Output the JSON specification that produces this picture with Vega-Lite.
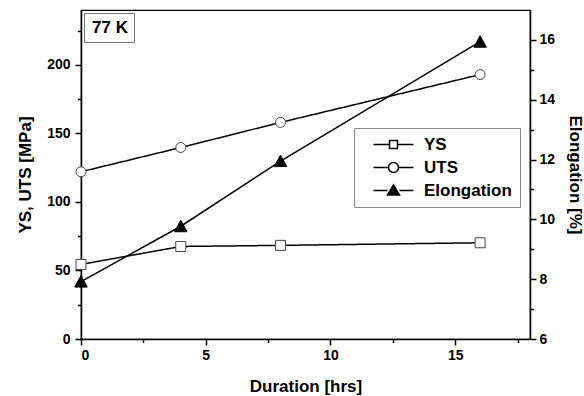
{
  "$schema": "https://vega.github.io/schema/vega-lite/v6.json",
  "width": 449,
  "height": 329,
  "autosize": {"type": "none"},
  "padding": {"left": 81, "top": 10, "right": 54, "bottom": 57},
  "background": "white",
  "config": {
    "view": {"stroke": "black", "strokeWidth": 1.2},
    "axis": {
      "grid": false,
      "domainColor": "black",
      "domainWidth": 1.5,
      "tickColor": "black",
      "tickWidth": 1.5,
      "labelFont": "Liberation Sans",
      "labelFontWeight": "bold",
      "labelFontSize": 14,
      "labelColor": "black",
      "titleFont": "Liberation Sans",
      "titleFontWeight": "bold",
      "titleFontSize": 17,
      "titleColor": "black"
    },
    "legend": {
      "labelFont": "Liberation Sans",
      "labelFontWeight": "bold",
      "labelColor": "black"
    }
  },
  "data": {
    "values": [
      {"duration": 0, "series": "YS", "group": "left", "value": 54.4, "temp": "77 K"},
      {"duration": 4, "series": "YS", "group": "left", "value": 67.5, "temp": "77 K"},
      {"duration": 8, "series": "YS", "group": "left", "value": 68.3, "temp": "77 K"},
      {"duration": 16, "series": "YS", "group": "left", "value": 70.2, "temp": "77 K"},
      {"duration": 0, "series": "UTS", "group": "left", "value": 122, "temp": "77 K"},
      {"duration": 4, "series": "UTS", "group": "left", "value": 139.7, "temp": "77 K"},
      {"duration": 8, "series": "UTS", "group": "left", "value": 158, "temp": "77 K"},
      {"duration": 16, "series": "UTS", "group": "left", "value": 192.9, "temp": "77 K"},
      {"duration": 0, "series": "Elongation", "group": "right", "value": 7.92, "temp": "77 K"},
      {"duration": 4, "series": "Elongation", "group": "right", "value": 9.77, "temp": "77 K"},
      {"duration": 8, "series": "Elongation", "group": "right", "value": 11.95, "temp": "77 K"},
      {"duration": 16, "series": "Elongation", "group": "right", "value": 15.94, "temp": "77 K"}
    ]
  },
  "encoding": {
    "x": {
      "field": "duration",
      "type": "quantitative",
      "scale": {"domain": [0, 18], "nice": false, "zero": false},
      "axis": {
        "title": "Duration [hrs]",
        "values": [0, 2.5, 5, 7.5, 10, 12.5, 15, 17.5],
        "labelExpr": "datum.value % 5 === 0 ? datum.label : ''",
        "tickSize": {"condition": {"test": "datum.value % 5 === 0", "value": 6}, "value": 3.5},
        "labelPadding": 3,
        "titlePadding": 16
      }
    }
  },
  "layer": [
    {
      "transform": [{"filter": "datum.group === 'left'"}],
      "encoding": {
        "y": {
          "field": "value",
          "type": "quantitative",
          "scale": {"domain": [0, 240], "nice": false, "zero": false},
          "axis": {
            "orient": "left",
            "title": "YS, UTS [MPa]",
            "values": [0, 25, 50, 75, 100, 125, 150, 175, 200, 225],
            "labelExpr": "datum.value % 50 === 0 ? datum.label : ''",
            "tickSize": {"condition": {"test": "datum.value % 50 === 0", "value": 6}, "value": 3.5},
            "labelPadding": 5,
            "titlePadding": 12
          }
        }
      },
      "layer": [
        {
          "mark": {"type": "line", "color": "black", "strokeWidth": 1.5},
          "encoding": {
            "detail": {"field": "series", "type": "nominal"},
            "strokeDash": {
              "field": "temp",
              "type": "nominal",
              "scale": {"range": [[1, 0]]},
              "legend": {
                "title": null,
                "orient": "top-left",
                "offset": 3,
                "padding": 6,
                "strokeColor": "#777777",
                "fillColor": "white",
                "symbolSize": 0,
                "symbolStrokeWidth": 0,
                "symbolOpacity": 0,
                "labelOffset": -15,
                "labelFontSize": 17
              }
            }
          }
        },
        {
          "transform": [{"filter": "datum.series === 'YS'"}],
          "mark": {"type": "point", "shape": "square", "size": 100, "filled": true, "fill": "white", "stroke": "#444444", "strokeWidth": 1, "opacity": 1}
        },
        {
          "transform": [{"filter": "datum.series === 'UTS'"}],
          "mark": {"type": "point", "shape": "circle", "size": 100, "filled": true, "fill": "white", "stroke": "#444444", "strokeWidth": 1, "opacity": 1}
        },
        {
          "transform": [{"filter": "datum.duration < 0"}],
          "mark": {"type": "point", "size": 100, "filled": true, "stroke": "black", "strokeWidth": 1.2, "opacity": 1},
          "encoding": {
            "shape": {
              "field": "series", "type": "nominal",
              "scale": {
                "domain": ["YS", "UTS", "Elongation"],
                "range": [
                  "M0.6,0H3.8M5.4,0H8.6M3.8,-0.8H5.4V0.8H3.8Z",
                  "M0.6,0H3.6M5.6,0H8.6M5.6,0A1,1,0,1,1,3.6,0A1,1,0,1,1,5.6,0Z",
                  "M0.6,0H3.4M5.8,0H8.6M4.6,-1.1L5.8,0.9L3.4,0.9Z"
                ]
              },
              "legend": {
                "title": null,
                "orient": "none",
                "legendX": 273,
                "legendY": 118,
                "padding": 8,
                "strokeColor": "#888888",
                "fillColor": "white",
                "symbolSize": 100,
                "labelOffset": 45,
                "rowPadding": 5,
                "labelFontSize": 17
              }
            },
            "fill": {
              "field": "series", "type": "nominal",
              "scale": {"domain": ["YS", "UTS", "Elongation"], "range": ["white", "white", "black"]},
              "legend": {
                "title": null,
                "orient": "none",
                "legendX": 273,
                "legendY": 118,
                "padding": 8,
                "strokeColor": "#888888",
                "fillColor": "white",
                "symbolSize": 100,
                "labelOffset": 45,
                "rowPadding": 5,
                "labelFontSize": 17
              }
            }
          }
        }
      ]
    },
    {
      "transform": [{"filter": "datum.group === 'right'"}],
      "encoding": {
        "y": {
          "field": "value",
          "type": "quantitative",
          "scale": {"domain": [6, 17], "nice": false, "zero": false},
          "axis": {
            "orient": "right",
            "title": "Elongation [%]",
            "values": [6, 7, 8, 9, 10, 11, 12, 13, 14, 15, 16],
            "labelExpr": "datum.value % 2 === 0 ? datum.label : ''",
            "tickSize": {"condition": {"test": "datum.value % 2 === 0", "value": 6}, "value": 3.5},
            "labelPadding": 3,
            "titlePadding": 11
          }
        }
      },
      "layer": [
        {
          "mark": {"type": "line", "color": "black", "strokeWidth": 1.5},
          "encoding": {"detail": {"field": "series", "type": "nominal"}}
        },
        {
          "mark": {"type": "point", "shape": "M0,-1.2L1.25,1.1L-1.25,1.1Z", "size": 100, "filled": true, "fill": "black", "stroke": "black", "strokeWidth": 1, "opacity": 1}
        }
      ]
    }
  ],
  "resolve": {"scale": {"y": "independent"}}
}
